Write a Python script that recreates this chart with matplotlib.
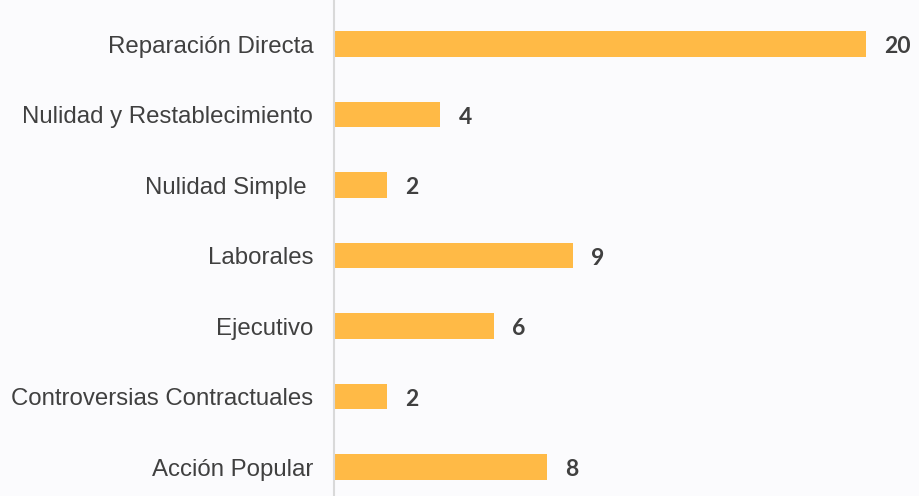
import matplotlib.pyplot as plt

categories = ["Reparación Directa", "Nulidad y Restablecimiento", "Nulidad Simple ",
              "Laborales", "Ejecutivo", "Controversias Contractuales", "Acción Popular"]
values = [20, 4, 2, 9, 6, 2, 8]

fig = plt.figure(figsize=(9.19, 4.96), dpi=100, facecolor="#fbfbfd")
ax = fig.add_axes([334 / 919, 0, 1 - 334 / 919, 1])
ax.set_facecolor("#fbfbfd")

pos = list(range(len(categories)))
ax.barh(pos, values, height=0.36, color="#ffba46", left=0)

for p, v in zip(pos, values):
    ax.text(v + 0.68, p + 0.04, str(v), va="center", ha="left", fontsize=16.5,
            fontweight="bold", color="#404040", family="Lato")

ax.set_xlim(0, 22.0)
ax.set_ylim(6.41, -0.624)
ax.set_yticks(pos)
ax.set_yticklabels(categories, fontsize=17.3, color="#404040", family="Liberation Sans")
ax.tick_params(axis="y", length=0, pad=15)
ax.set_xticks([])
for s in ["top", "right", "bottom"]:
    ax.spines[s].set_visible(False)
ax.spines["left"].set_color("#d9d9d9")
ax.spines["left"].set_linewidth(1.5)

fig.savefig("out.png", dpi=100, facecolor=fig.get_facecolor())
